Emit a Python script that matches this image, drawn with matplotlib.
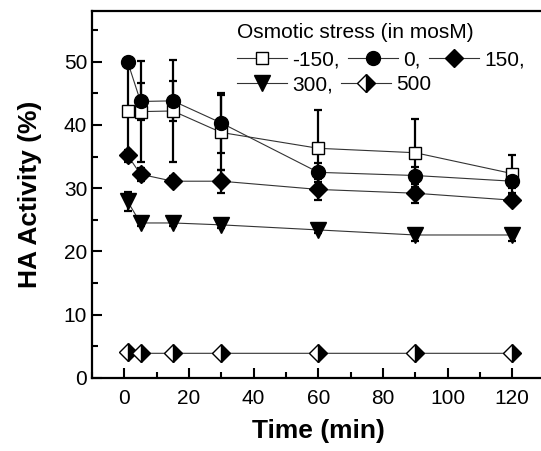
import matplotlib
matplotlib.use("Agg")
import matplotlib.pyplot as plt
from matplotlib.ticker import MultipleLocator

plt.rcParams['font.family'] = ['Liberation Sans', 'DejaVu Sans']

time_min = [1, 5, 15, 30, 60, 90, 120]

act_m150 = [42.2, 42.1, 42.2, 38.8, 36.3, 35.6, 32.3]
err_m150 = [8.0, 8.0, 8.0, 5.9, 6.1, 5.4, 3.0]

act_0 = [50.0, 43.7, 43.8, 40.3, 32.5, 32.0, 31.1]
err_0 = [0.5, 3.0, 3.2, 4.7, 1.5, 1.4, 1.0]

act_150 = [35.2, 32.2, 31.1, 31.1, 29.8, 29.2, 28.1]
err_150 = [0.9, 1.0, 0.8, 1.8, 1.7, 1.6, 0.8]

act_300 = [27.9, 24.5, 24.5, 24.2, 23.4, 22.6, 22.6]
err_300 = [1.5, 0.5, 0.5, 0.5, 0.5, 1.0, 1.0]

act_500 = [4.1, 3.9, 3.9, 3.9, 3.9, 3.9, 3.9]
err_500 = [0.2, 0.2, 0.2, 0.2, 0.2, 0.2, 0.2]

labels = ["-150,", "0,", "150,", "300,", "500"]

fig = plt.figure(figsize=(5.41, 4.51), dpi=100)
ax = fig.add_axes([0.1701, 0.1619, 0.8366, 0.8137])

line_kw = dict(color='#333333', lw=0.8, markeredgecolor='black',
               markeredgewidth=1.0)
err_kw = dict(fmt='none', ecolor='black', elinewidth=1.6, capsize=3,
              capthick=1.6, zorder=2)

series = [
    (act_m150, err_m150, dict(marker='s', ms=9, markerfacecolor='white')),
    (act_0, err_0, dict(marker='o', ms=10, markerfacecolor='black')),
    (act_150, err_150, dict(marker='D', ms=9, markerfacecolor='black')),
    (act_300, err_300, dict(marker='v', ms=11, markerfacecolor='black')),
    (act_500, err_500, dict(marker='D', ms=9, markerfacecolor='black',
                            fillstyle='right', markerfacecoloralt='white')),
]

handles = []
for (vals, errs, mk), lab in zip(series, labels):
    ax.errorbar(time_min, vals, yerr=errs, **err_kw)
    h, = ax.plot(time_min, vals, label=lab, zorder=3, **line_kw, **mk)
    handles.append(h)

ax.set_xlim(-10, 130)
ax.set_ylim(0, 58)
ax.xaxis.set_major_locator(MultipleLocator(20))
ax.xaxis.set_minor_locator(MultipleLocator(10))
ax.yaxis.set_major_locator(MultipleLocator(10))
ax.yaxis.set_minor_locator(MultipleLocator(5))
ax.tick_params(which='both', direction='in', width=1.5, labelsize=15,
               top=False, right=False)
ax.tick_params(which='major', length=7)
ax.tick_params(which='minor', length=4)
ax.tick_params(axis='x', pad=8)
for s in ax.spines.values():
    s.set_linewidth(1.6)

ax.set_xlabel("Time (min)", fontsize=19, fontweight='bold', labelpad=8)
ax.set_ylabel("HA Activity (%)", fontsize=19, fontweight='bold', labelpad=16)

# legend: title line, then two independently packed rows
leg_kw = dict(frameon=False, fontsize=15, handlelength=2.4,
              handletextpad=0.25, columnspacing=0.4, borderpad=0,
              borderaxespad=0, loc='center left',
              bbox_transform=fig.transFigure)
fig.text(237 / 541, 1 - 33 / 451, "Osmotic stress (in mosM)", fontsize=15,
         ha='left', va='center')
row1 = ax.legend(handles[:3], labels[:3], ncol=3,
                 bbox_to_anchor=(237 / 541, 1 - 60 / 451), **leg_kw)
ax.add_artist(row1)
ax.legend(handles[3:], labels[3:], ncol=2,
          bbox_to_anchor=(237 / 541, 1 - 85 / 451), **leg_kw)

fig.savefig("out.png", dpi=100)
